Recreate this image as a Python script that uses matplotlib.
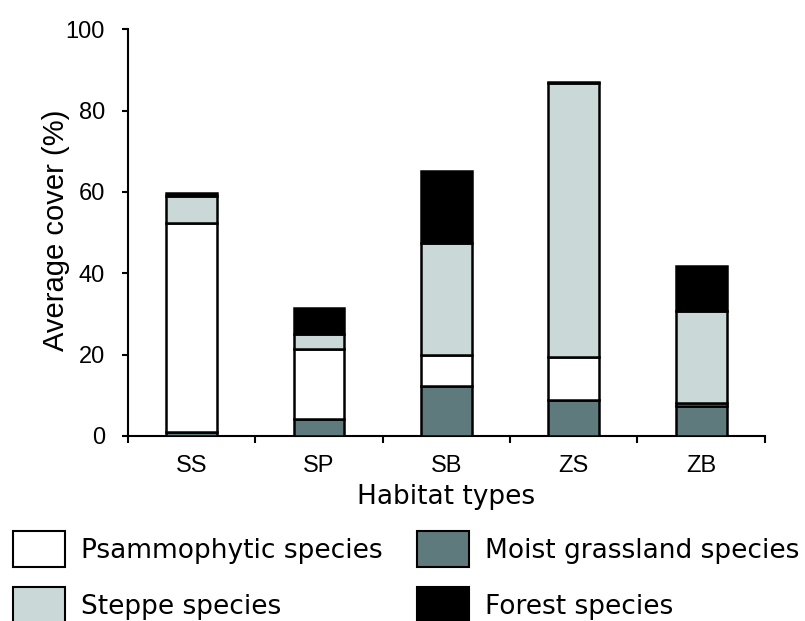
import matplotlib
matplotlib.use("Agg")
import matplotlib.pyplot as plt
import numpy as np
from matplotlib.patches import Patch

habitats = ["SS", "SP", "SB", "ZS", "ZB"]
moist = [1.0, 4.2, 12.3, 8.8, 7.4]
psammo = [51.3, 17.2, 7.6, 10.6, 0.7]
steppe = [6.8, 3.7, 27.5, 67.3, 22.6]
forest = [0.6, 6.3, 17.7, 0.4, 11.1]

c_moist = "#5f7a7d"
c_steppe = "#cad9d8"
c_psammo = "#ffffff"
c_forest = "#000000"

tick_font = "Liberation Sans"
leg_font = "DejaVu Sans"

fig = plt.figure(figsize=(8.05, 6.21), dpi=100)
ax = fig.add_axes([0.159, 0.298, 0.791, 0.655])

x = np.arange(len(habitats))
w = 0.4
bottom = np.zeros(len(habitats))
for vals, col in [(moist, c_moist), (psammo, c_psammo),
                  (steppe, c_steppe), (forest, c_forest)]:
    ax.bar(x, vals, w, bottom=bottom, color=col, edgecolor="black",
           linewidth=1.8, zorder=3)
    bottom += np.array(vals)

ax.set_xlim(-0.5, len(habitats) - 0.5)
ax.set_ylim(0, 100)
ax.set_yticks([0, 20, 40, 60, 80, 100])
ax.set_xticks(x)
ax.set_xticklabels(habitats, fontfamily=tick_font, fontsize=17)
ax.set_xticks(np.arange(-0.5, len(habitats)), minor=True)
ax.tick_params(axis="x", which="major", length=0, pad=14)
ax.tick_params(axis="x", which="minor", length=5, width=1.5, direction="out")
ax.tick_params(axis="y", length=4.5, width=1.5, direction="out", pad=12)
for lab in ax.get_yticklabels():
    lab.set_fontfamily(tick_font)
    lab.set_fontsize(17)

for s in ["top", "right"]:
    ax.spines[s].set_visible(False)
for s in ["left", "bottom"]:
    ax.spines[s].set_linewidth(1.5)

ax.set_ylabel("Average cover (%)", fontfamily=tick_font, fontsize=21)
ax.yaxis.set_label_coords(-0.091, 0.506)
ax.set_xlabel("Habitat types", fontfamily=leg_font, fontsize=19, labelpad=5)

# legend boxes drawn with a thin black edge
handles = [Patch(facecolor=c_psammo, edgecolor="black", linewidth=1.5),
           Patch(facecolor=c_steppe, edgecolor="black", linewidth=1.5),
           Patch(facecolor=c_moist, edgecolor="black", linewidth=1.5),
           Patch(facecolor=c_forest, edgecolor="black", linewidth=1.5)]
labels = ["Psammophytic species", "Steppe species",
          "Moist grassland species", "Forest species"]
fig.legend(handles, labels, ncol=2, loc="upper left",
           bbox_to_anchor=(13 / 805, 1 - 531 / 621), frameon=False,
           borderpad=0, borderaxespad=0,
           prop={"family": leg_font, "size": 19},
           handlelength=1.97, handleheight=1.72, handletextpad=0.6,
           columnspacing=1.3, labelspacing=0.76)

fig.savefig("out.png", dpi=100)
